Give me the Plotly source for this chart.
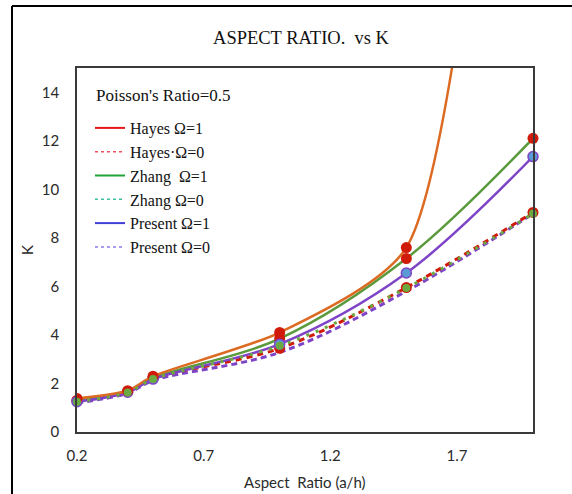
import plotly.graph_objects as go

# Aspect ratio a/h and stress-concentration factor K
aspect = [0.2, 0.4, 0.5, 1.0, 1.5, 2.0]

hayes_w1 = [1.38, 1.70, 2.30, 4.10, 7.60, 45.0]
zhang_w1 = [1.30, 1.66, 2.22, 3.85, 7.15, 12.10]
present_w1 = [1.25, 1.64, 2.18, 3.62, 6.55, 11.35]
hayes_w0 = [1.30, 1.65, 2.20, 3.45, 5.95, 9.05]
zhang_w0 = [1.25, 1.63, 2.18, 3.55, 5.93, 9.00]
present_w0 = [1.20, 1.60, 2.12, 3.28, 5.80, 9.00]

x_ticks = [0.2, 0.7, 1.2, 1.7]
y_ticks = [0, 2, 4, 6, 8, 10, 12, 14]

legend_names = ["Hayes Ω=1", "Hayes·Ω=0", "Zhang  Ω=1", "Zhang Ω=0", "Present Ω=1", "Present Ω=0"]
legend_colors = ["#E8141B", "#F0505A", "#22A33A", "#3CC0A0", "#3F3FD8", "#8A7CE8"]
legend_dash = ["solid", "dot", "solid", "dot", "solid", "dot"]

ORANGE = "#DC6A22"
GREEN = "#5A9A3C"
PURPLE = "#7E44C8"
RED = "#D01A0A"
BLUE = "#5B9BD5"
MGREEN = "#6AAA40"

# plot area in pixels (used for paper-coordinate placement of titles and frame)
L, R, T, B = 77, 533, 68, 432
W, H = R - L, B - T


def px(xp):
    return (xp - L) / W


def py(yp):
    return (B - yp) / H


fig = go.Figure()

# plotted curves (legend handled separately below)
fig.add_trace(go.Scatter(x=aspect, y=present_w0, mode="lines", line=dict(color=PURPLE, width=3, dash="6px,4px", shape="spline"),
                         showlegend=False, cliponaxis=False))
fig.add_trace(go.Scatter(x=aspect, y=hayes_w0, mode="lines+markers", line=dict(color=RED, width=3, dash="6px,5px", shape="spline"),
                         marker=dict(color=RED, size=11), showlegend=False, cliponaxis=False))
fig.add_trace(go.Scatter(x=aspect, y=zhang_w1, mode="lines+markers", line=dict(color=GREEN, width=2.5, shape="spline"),
                         marker=dict(color=RED, size=11), showlegend=False, cliponaxis=False))
fig.add_trace(go.Scatter(x=aspect, y=present_w1, mode="lines+markers", line=dict(color=PURPLE, width=2.5, shape="spline"),
                         marker=dict(color=BLUE, size=10, line=dict(color=PURPLE, width=1.5)), showlegend=False, cliponaxis=False))
fig.add_trace(go.Scatter(x=aspect, y=hayes_w1, mode="lines+markers",
                         line=dict(color=ORANGE, width=2.5, shape="spline", smoothing=0.65),
                         marker=dict(color=RED, size=11), showlegend=False, cliponaxis=True))
fig.add_trace(go.Scatter(x=aspect, y=zhang_w0, mode="lines+markers", line=dict(color=MGREEN, width=3, dash="3px,7px", shape="spline"),
                         marker=dict(color=MGREEN, size=8), showlegend=False, cliponaxis=False))

# legend entries
for name, col, dsh in zip(legend_names, legend_colors, legend_dash):
    fig.add_trace(go.Scatter(x=[None], y=[None], mode="lines", name=name,
                             line=dict(color=col, width=2 if dsh == "solid" else 1.5, dash=dsh)))

axis_font = dict(family="Lato", size=15, color="#2a2a2a")

fig.update_layout(
    width=572, height=494,
    margin=dict(l=L, r=572 - R, t=T, b=494 - B),
    paper_bgcolor="white", plot_bgcolor="white",
    title=dict(text="ASPECT RATIO.  vs K", x=301 / 572, xanchor="center", y=1 - 38 / 494, yanchor="middle",
               font=dict(family="Liberation Serif", size=18.5, color="#111111")),
    xaxis=dict(range=[0.2, 2.0], tickvals=x_ticks, ticktext=[f"{v:.1f}" for v in x_ticks],
               showgrid=False, zeroline=False, showline=True, mirror=True, linecolor="#3a3a3a", linewidth=1.5,
               ticks="", ticklabelstandoff=9, tickfont=axis_font, automargin=False),
    yaxis=dict(range=[0, 15], tickvals=y_ticks, showgrid=False, zeroline=False, showline=True, mirror=True,
               linecolor="#3a3a3a", linewidth=1.5, ticks="", ticklabelstandoff=13,
               tickfont=axis_font, automargin=False),
    legend=dict(x=px(90), y=py(111), xanchor="left", yanchor="top",
                bgcolor="rgba(255,255,255,0)", borderwidth=0,
                font=dict(family="Liberation Serif", size=16, color="#111111"), tracegroupgap=0),
    annotations=[
        dict(text="Poisson's Ratio=0.5", xref="paper", yref="paper", x=px(94), y=py(96),
             xanchor="left", yanchor="middle", showarrow=False,
             font=dict(family="Liberation Serif", size=17, color="#111111")),
        dict(text="Aspect  Ratio (a/h)", xref="paper", yref="paper", x=px(305), y=py(482),
             xanchor="center", yanchor="middle", showarrow=False, font=axis_font),
        dict(text="K", xref="paper", yref="paper", x=px(27), y=py(250), textangle=-90,
             xanchor="center", yanchor="middle", showarrow=False, font=axis_font),
    ],
    shapes=[
        dict(type="line", xref="paper", yref="paper", x0=px(12), x1=px(572),
             y0=py(6), y1=py(6), line=dict(color="black", width=2)),
        dict(type="line", xref="paper", yref="paper", x0=px(12), x1=px(12),
             y0=py(6), y1=py(494), line=dict(color="black", width=2)),
    ],
)

fig.write_html("out.html")
